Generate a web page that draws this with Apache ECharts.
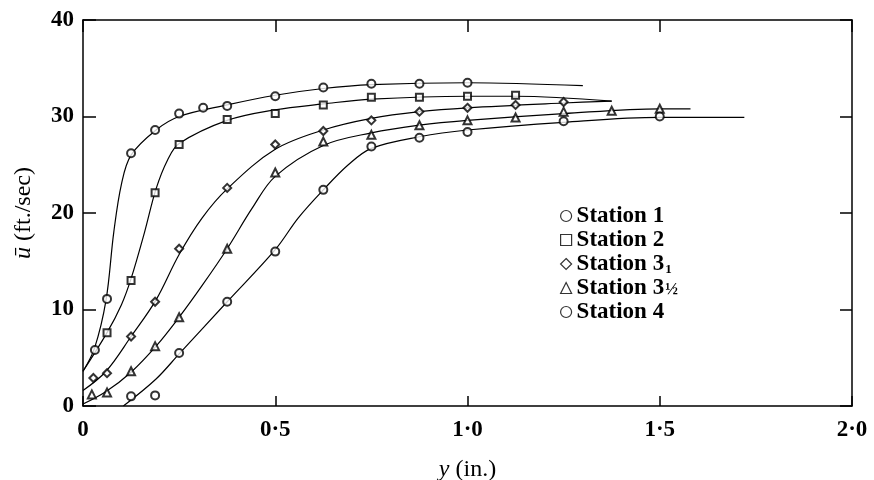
<!DOCTYPE html>
<html>
<head>
<meta charset="utf-8">
<script src="https://cdn.jsdelivr.net/npm/echarts@6/dist/echarts.min.js"></script>
<style>
  html, body { margin: 0; padding: 0; background: #fff; }
  #chart { width: 874px; height: 480px; }
</style>
</head>
<body>
<div id="chart"></div>
<script>
// measured points [y (in.), u (ft/sec)]
const station1 = [[0.031, 5.8], [0.0625, 11.1], [0.125, 26.2], [0.1875, 28.6], [0.25, 30.3], [0.3125, 30.9],
  [0.375, 31.1], [0.5, 32.1], [0.625, 33.0], [0.75, 33.4], [0.875, 33.4], [1.0, 33.5]]
const station2 = [[0.0625, 7.6], [0.125, 13.0], [0.1875, 22.1], [0.25, 27.1], [0.375, 29.7], [0.5, 30.3],
  [0.625, 31.2], [0.75, 32.0], [0.875, 32.0], [1.0, 32.1], [1.125, 32.2]]
const station3 = [[0.027, 2.9], [0.0625, 3.4], [0.125, 7.2], [0.1875, 10.8], [0.25, 16.3], [0.375, 22.6],
  [0.5, 27.1], [0.625, 28.5], [0.75, 29.6], [0.875, 30.5], [1.0, 30.9], [1.125, 31.2], [1.25, 31.5]]
const station3h = [[0.023, 1.2], [0.0625, 1.4], [0.125, 3.6], [0.1875, 6.2], [0.25, 9.2], [0.375, 16.3],
  [0.5, 24.2], [0.625, 27.4], [0.75, 28.1], [0.875, 29.1], [1.0, 29.6], [1.125, 29.9], [1.25, 30.5],
  [1.375, 30.6], [1.5, 30.8]]
const station4 = [[0.125, 1.0], [0.1875, 1.1], [0.25, 5.5], [0.375, 10.8], [0.5, 16.0], [0.625, 22.4],
  [0.75, 26.9], [0.875, 27.8], [1.0, 28.4], [1.25, 29.5], [1.5, 30.0]]

// fitted curves
const curve1 = [[0, 3.6], [0.03, 6], [0.06, 11], [0.08, 18], [0.1, 23], [0.125, 26], [0.19, 28.6], [0.25, 30],
  [0.375, 31.2], [0.5, 32.2], [0.625, 32.9], [0.75, 33.3], [1.0, 33.5], [1.3, 33.2]]
const curve2 = [[0, 3.6], [0.0625, 7.6], [0.1, 10.5], [0.125, 13.2], [0.16, 18], [0.19, 22.5], [0.22, 25.5],
  [0.25, 27.2], [0.375, 29.6], [0.5, 30.7], [0.625, 31.3], [0.75, 31.8], [1.0, 32.1], [1.125, 32.1], [1.375, 31.6]]
const curve3 = [[0, 1.6], [0.06, 3.6], [0.125, 7.2], [0.19, 11], [0.25, 15.7], [0.31, 19.5], [0.375, 22.5],
  [0.5, 26.6], [0.625, 28.6], [0.75, 29.8], [0.875, 30.5], [1.0, 30.9], [1.25, 31.4], [1.375, 31.6]]
const curve3h = [[0, 0.2], [0.06, 1.5], [0.125, 3.5], [0.19, 6.2], [0.25, 9.2], [0.31, 12.5], [0.375, 16.3],
  [0.44, 20.5], [0.5, 23.8], [0.625, 27.0], [0.75, 28.3], [0.875, 29.1], [1.0, 29.6], [1.25, 30.3],
  [1.5, 30.8], [1.58, 30.8]]
const curve4 = [[0.105, 0], [0.19, 2.8], [0.25, 5.4], [0.375, 10.8], [0.5, 16.2], [0.56, 19.5], [0.625, 22.4],
  [0.69, 25], [0.75, 26.7], [0.875, 27.9], [1.0, 28.6], [1.25, 29.4], [1.5, 29.9], [1.72, 29.9]]

const names = ['Station 1', 'Station 2', 'Station 3', 'Station 3½', 'Station 4']
const symbols = ['emptyCircle', 'emptyRect', 'emptyDiamond', 'emptyTriangle', 'emptyCircle']
const points = [station1, station2, station3, station3h, station4]
const curves = [curve1, curve2, curve3, curve3h, curve4]
const xTickLabels = { 0: '0', 0.5: '0·5', 1: '1·0', 1.5: '1·5', 2: '2·0' }

const font = 'Liberation Serif'
const axisLine = { show: true, onZero: false, lineStyle: { color: '#000', width: 1.5 } }
const tick = len => ({ inside: true, length: len, lineStyle: { color: '#000', width: 1.5 } })

const series = []
curves.forEach(c => {
  series.push({
    type: 'line',
    data: c,
    smooth: 0.35,
    showSymbol: false,
    silent: true,
    lineStyle: { color: '#000', width: 1.2 },
    z: 2
  })
})
points.forEach((p, i) => {
  series.push({
    name: names[i],
    type: 'scatter',
    data: p,
    symbol: symbols[i],
    symbolSize: i === 1 ? 7 : 8,
    itemStyle: { color: '#000', borderColor: '#000', borderWidth: 1.1 },
    z: 3
  })
})

const chart = echarts.init(document.getElementById('chart'))
chart.setOption({
  backgroundColor: '#fff',
  animation: false,
  grid: { left: 83, right: 22, top: 20, bottom: 74, outerBoundsMode: 'none', containLabel: false },
  legend: {
    orient: 'vertical',
    left: 555,
    top: 199,
    itemWidth: 11,
    itemHeight: 11,
    itemGap: 0,
    data: names.map((n, i) => ({ name: n, icon: symbols[i].replace('empty', '').toLowerCase() })),
    itemStyle: { color: '#fff', borderColor: '#000', borderWidth: 1.2 },
    formatter: n => {
      if (n === 'Station 3') return 'Station 3{sub|1}'
      if (n === 'Station 3½') return 'Station 3{frac|½}'
      return n
    },
    textStyle: {
      fontFamily: font, fontWeight: 'bold', fontSize: 23, lineHeight: 24, color: '#000',
      rich: {
        sub: { fontFamily: font, fontSize: 13, fontWeight: 'bold', color: '#000', lineHeight: 24, verticalAlign: 'bottom', padding: [9, 0, 0, 1] },
        frac: { fontFamily: font, fontSize: 17, fontWeight: 'bold', color: '#000', lineHeight: 24, padding: [4, 0, 0, 1] }
      }
    }
  },
  xAxis: [{
    type: 'value', min: 0, max: 2, interval: 0.5,
    name: '{i|y} (in.)', nameLocation: 'middle', nameGap: 52,
    nameTextStyle: { fontFamily: font, fontSize: 24, color: '#000', rich: { i: { fontFamily: font, fontStyle: 'italic', fontSize: 24 } } },
    axisLine: axisLine,
    axisTick: tick(10),
    axisLabel: { margin: 13, fontFamily: font, fontWeight: 'bold', fontSize: 23, color: '#000', formatter: v => xTickLabels[v] },
    splitLine: { show: false }
  }, {
    type: 'value', min: 0, max: 2, interval: 0.5, position: 'top',
    axisLine: axisLine,
    axisTick: tick(12),
    axisLabel: { show: false },
    splitLine: { show: false }
  }],
  yAxis: [{
    type: 'value', min: 0, max: 40, interval: 10,
    name: '{i|ū} (ft./sec)', nameLocation: 'middle', nameGap: 47,
    nameTextStyle: { fontFamily: font, fontSize: 24, color: '#000', rich: { i: { fontFamily: font, fontStyle: 'italic', fontSize: 24 } } },
    axisLine: axisLine,
    axisTick: tick(13),
    axisLabel: { margin: 9, fontFamily: font, fontWeight: 'bold', fontSize: 23, color: '#000' },
    splitLine: { show: false }
  }, {
    type: 'value', min: 0, max: 40, interval: 10, position: 'right',
    axisLine: axisLine,
    axisTick: tick(12),
    axisLabel: { show: false },
    splitLine: { show: false }
  }],
  series: series
})
</script>
</body>
</html>
